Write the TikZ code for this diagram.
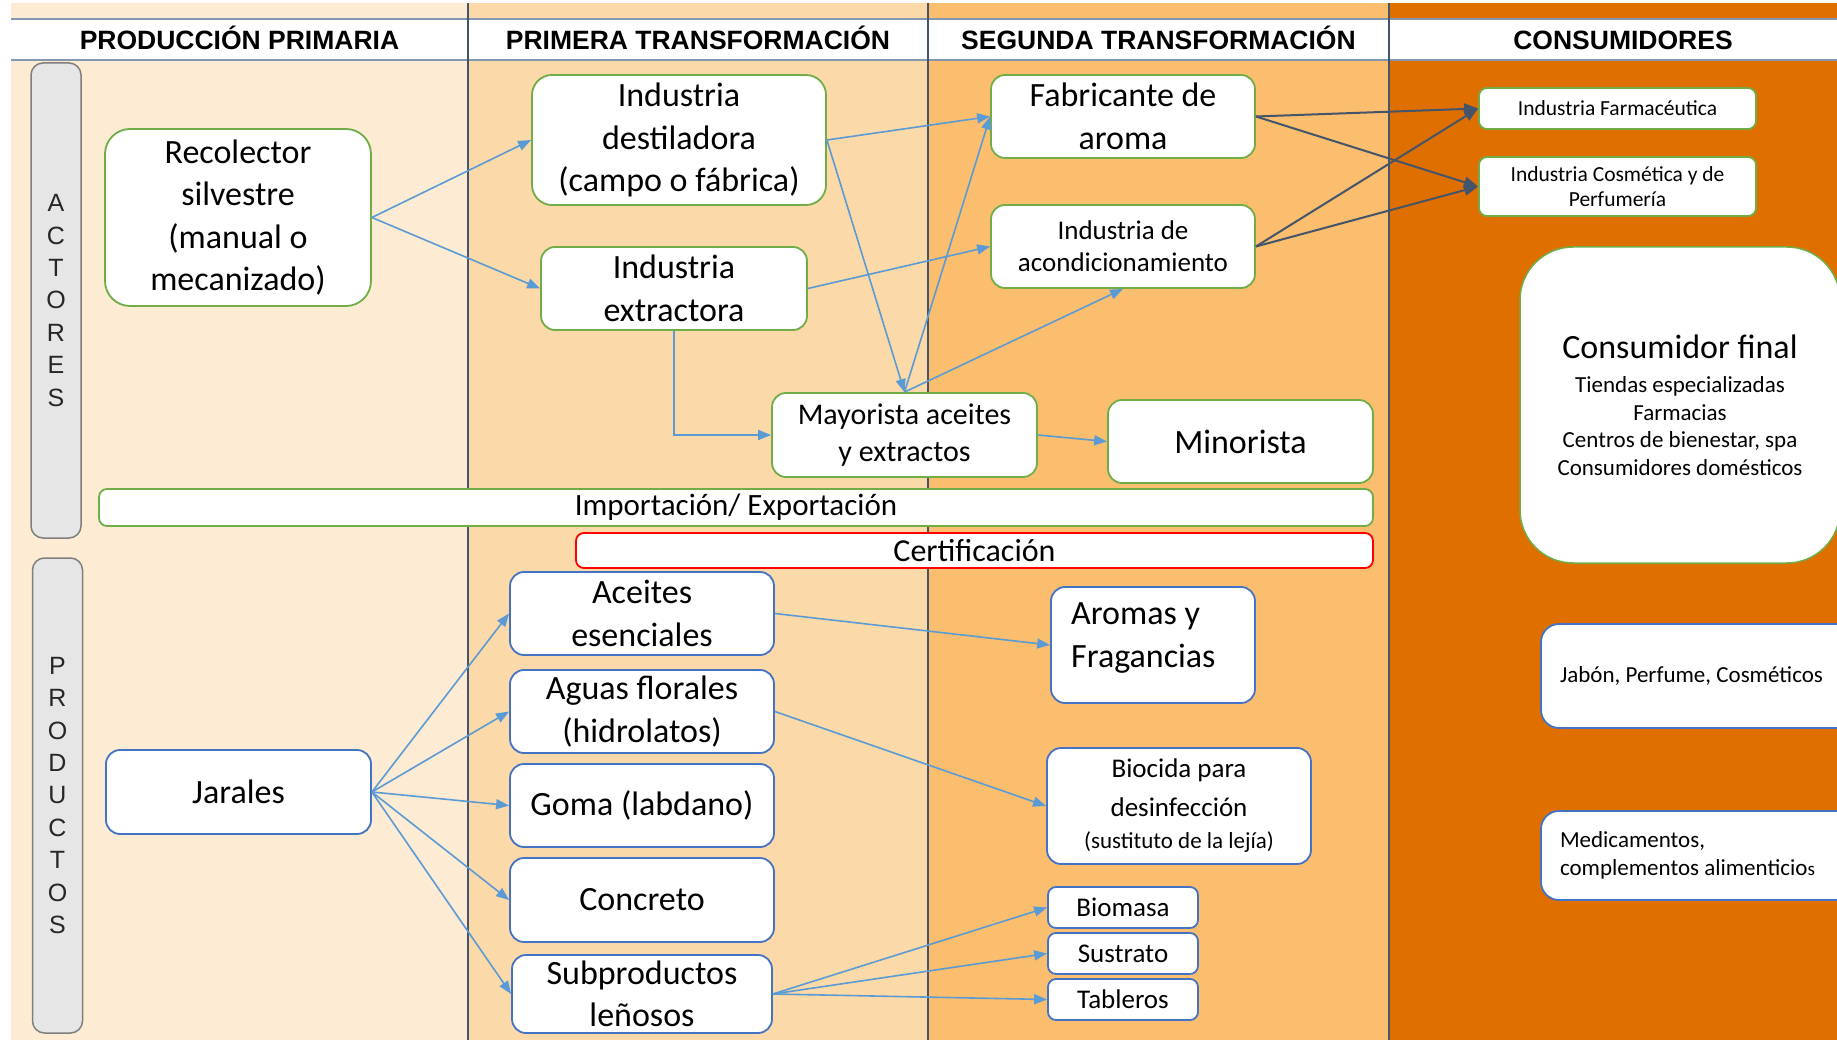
\documentclass[tikz,border=0pt]{standalone}
\usepackage{fontspec}
\usepackage{graphicx}
\setmainfont{Carlito}
\newfontfamily\arialf{Liberation Sans}
\frenchspacing
\usetikzlibrary{arrows.meta}
\definecolor{colA}{HTML}{FDEBD3}
\definecolor{colB}{HTML}{FCD9A8}
\definecolor{colC}{HTML}{FBBE6E}
\definecolor{colD}{HTML}{DF7000}
\definecolor{gborder}{HTML}{70AD47}
\definecolor{bborder}{HTML}{4472C4}
\definecolor{rborder}{HTML}{FF0000}
\definecolor{arrblue}{HTML}{5B9BD5}
\definecolor{arrdark}{HTML}{44546A}
\definecolor{barfill}{HTML}{E6E6E6}
\definecolor{bargray}{HTML}{7F7F7F}
\definecolor{divcol}{HTML}{44546A}
\definecolor{hdrcol}{HTML}{8497B0}
\tikzset{
  box/.style={draw, fill=white, line width=1.8pt, rounded corners=14pt, align=center, inner sep=1pt, text=black},
  gbox/.style={box, draw=gborder},
  bluebox/.style={box, draw=bborder},
  redbox/.style={box, draw=rborder},
  fL/.style={font=\frenchspacing\fontsize{34pt}{42.5pt}\selectfont},
  fM/.style={font=\frenchspacing\fontsize{30pt}{37pt}\selectfont},
  fS/.style={font=\frenchspacing\fontsize{27pt}{32pt}\selectfont},
  fXS/.style={font=\frenchspacing\fontsize{23pt}{27.5pt}\selectfont},
  fXXS/.style={font=\frenchspacing\fontsize{21.5pt}{25.5pt}\selectfont},
  hdr/.style={font=\arialf\bfseries\fontsize{26.5pt}{30pt}\selectfont, inner sep=0pt, text=black, anchor=base},
  sidebar/.style={draw=bargray, fill=barfill, line width=1.5pt, rounded corners=12pt, align=center,
    font=\arialf\fontsize{25pt}{32.4pt}\selectfont, inner sep=0pt, minimum width=50pt, text=black!85},
  arr/.style={draw=arrblue, line width=1.6pt, -{Triangle[length=13pt,width=10pt]}},
  darr/.style={draw=arrdark, line width=2pt, -{Triangle[length=14pt,width=11pt]}},
  divline/.style={draw=divcol, line width=1.5pt},
  hdrline/.style={draw=hdrcol, line width=2pt},
}
\begin{document}
\begin{tikzpicture}[x=1pt,y=-1pt]
\useasboundingbox (0,0) rectangle (1837,1040);
\clip (0,0) rectangle (1837,1040);
% background columns
\fill[white] (0,0) rectangle (1837,1040);
\fill[colA] (11,3) rectangle (468,1040);
\fill[colB] (468,3) rectangle (928,1040);
\fill[colC] (928,3) rectangle (1389,1040);
\fill[colD] (1389,3) rectangle (1837,1040);
\fill[white] (11,19) rectangle (1837,60);
\draw[hdrline] (11,19) -- (1837,19);
\draw[hdrline] (11,60) -- (1837,60);
\draw[divline] (468,3) -- (468,1040);
\draw[divline] (928,3) -- (928,1040);
\draw[divline] (1389,3) -- (1389,1040);
% headers
\node[hdr] (h1) at (239.5,50) {PRODUCCIÓN PRIMARIA};
\node[hdr] (h2) at (698,50) {PRIMERA TRANSFORMACIÓN};
\node[hdr] (h3) at (1158.5,50) {SEGUNDA TRANSFORMACIÓN};
\node[hdr] (h4) at (1623,50) {CONSUMIDORES};
% side bars
\node[sidebar, minimum height=475pt] (act) at (56,300.5) {A\\C\\T\\O\\R\\E\\S};
\node[sidebar, minimum height=475pt] (prod) at (57.5,795.5) {P\\R\\O\\D\\U\\C\\T\\O\\S};
% actores
\node[gbox, fL, rounded corners=25pt, minimum width=266pt, minimum height=177pt] (rec) at (238,217.5) {Recolector\\silvestre\\(manual o\\mecanizado)};
\node[gbox, fL, rounded corners=20pt, minimum width=294pt, minimum height=130pt] (dest) at (679,140) {Industria\\destiladora\\(campo o fábrica)};
\node[gbox, fL, minimum width=266pt, minimum height=83pt] (extr) at (674,288.5) {Industria\\extractora};
\node[gbox, fM, minimum width=265pt, minimum height=84pt] (may) at (904.5,435) {Mayorista aceites\\y extractos};
\node[gbox, fL, minimum width=264pt, minimum height=83pt] (fab) at (1123,116.5) {Fabricante de\\aroma};
\node[gbox, fS, minimum width=264pt, minimum height=83pt] (acond) at (1123,246.5) {Industria de\\acondicionamiento};
\node[gbox, fL, minimum width=265pt, minimum height=83pt] (mino) at (1240.5,441.5) {Minorista};
\node[gbox, fXXS, rounded corners=8pt, minimum width=277pt, minimum height=41pt] (farm) at (1617.5,108.5) {Industria Farmacéutica};
\node[gbox, fXXS, rounded corners=8pt, minimum width=277pt, minimum height=59pt] (cosm) at (1617.5,186.5) {Industria Cosmética y de\\Perfumería};
\node[gbox, fXS, line width=1.5pt, rounded corners=53pt, minimum width=320pt, minimum height=316pt] (cons) at (1680,405)
  {{\fontsize{34pt}{40pt}\selectfont Consumidor final}\\[7pt]Tiendas especializadas\\Farmacias\\Centros de bienestar, spa\\Consumidores domésticos};
% bands
\node[gbox, font=\fontsize{31pt}{36pt}\selectfont, rounded corners=8pt, minimum width=1274pt, minimum height=37pt, inner sep=0pt] (imp) at (736,507.5) {Importación/ Exportación};
\node[redbox, font=\fontsize{32pt}{36pt}\selectfont, rounded corners=8pt, minimum width=797pt, minimum height=35pt, inner sep=0pt] (cert) at (974.5,550.5) {Certificación};
% productos
\node[bluebox, fL, minimum width=265pt, minimum height=84pt] (jar) at (238.5,792) {Jarales};
\node[bluebox, fL, minimum width=264pt, minimum height=83pt] (ace) at (642,613.5) {Aceites\\esenciales};
\node[bluebox, fL, minimum width=264pt, minimum height=83pt] (agu) at (642,711.5) {Aguas florales\\(hidrolatos)};
\node[bluebox, fL, minimum width=264pt, minimum height=83pt] (gom) at (642,805.5) {Goma (labdano)};
\node[bluebox, fL, minimum width=264pt, minimum height=84pt] (con) at (642,900) {Concreto};
\node[bluebox, fL, minimum width=260pt, minimum height=78pt, inner sep=0pt] (sub) at (642,994) {Subproductos\\leñosos};
\node[bluebox, minimum width=204pt, minimum height=116pt] (aro) at (1153,645) {};
\node[fL, align=flush left, anchor=west, inner sep=0pt] (aroT) at (1071,638) {Aromas y\\Fragancias};
\node[bluebox, fS, minimum width=264pt, minimum height=116pt] (bio) at (1179,806)
  {Biocida para\\[7pt]desinfección\\{\fontsize{23pt}{27pt}\selectfont (sustituto de la lejía)}};
\node[bluebox, fS, rounded corners=8pt, minimum width=150pt, minimum height=41pt, inner sep=0pt] (biom) at (1123,907.5) {Biomasa};
\node[bluebox, fS, rounded corners=8pt, minimum width=150pt, minimum height=41pt, inner sep=0pt] (sus) at (1123,953.5) {Sustrato};
\node[bluebox, fS, rounded corners=8pt, minimum width=150pt, minimum height=41pt, inner sep=0pt] (tab) at (1123,999.5) {Tableros};
\node[bluebox, fXS, align=flush left, text width=321pt, inner xsep=19pt, minimum height=104pt, rounded corners=18pt] (jab) at (1720.5,676) {Jabón, Perfume, Cosméticos};
\node[bluebox, fXS, align=flush left, text width=321pt, inner xsep=19pt, minimum height=89pt, rounded corners=18pt] (med) at (1720.5,855.5) {Medicamentos,\\complementos alimenticio{\fontsize{19pt}{27pt}\selectfont s}};
% arrows actores
\draw[arr] (rec.east) -- (dest.west);
\draw[arr] (rec.east) -- (extr.west);
\draw[arr] (dest.east) -- (fab.west);
\draw[arr] (dest.east) -- (may.north);
\draw[arr] (may.north) -- (fab.west);
\draw[arr] (extr.east) -- (acond.west);
\draw[arr] (may.north) -- (acond.south);
\draw[arr] (extr.south) |- (may.west);
\draw[arr] (may.east) -- (mino.west);
\draw[darr] (fab.east) -- (farm.west);
\draw[darr] (fab.east) -- (cosm.west);
\draw[darr] (acond.east) -- (farm.west);
\draw[darr] (acond.east) -- (cosm.west);
% arrows productos
\draw[arr] (jar.east) -- (ace.west);
\draw[arr] (jar.east) -- (agu.west);
\draw[arr] (jar.east) -- (gom.west);
\draw[arr] (jar.east) -- (con.west);
\draw[arr] (jar.east) -- (sub.west);
\draw[arr] (ace.east) -- (aro.west);
\draw[arr] (agu.east) -- (bio.west);
\draw[arr] (sub.east) -- (biom.west);
\draw[arr] (sub.east) -- (sus.west);
\draw[arr] (sub.east) -- (tab.west);
\end{tikzpicture}
\end{document}
